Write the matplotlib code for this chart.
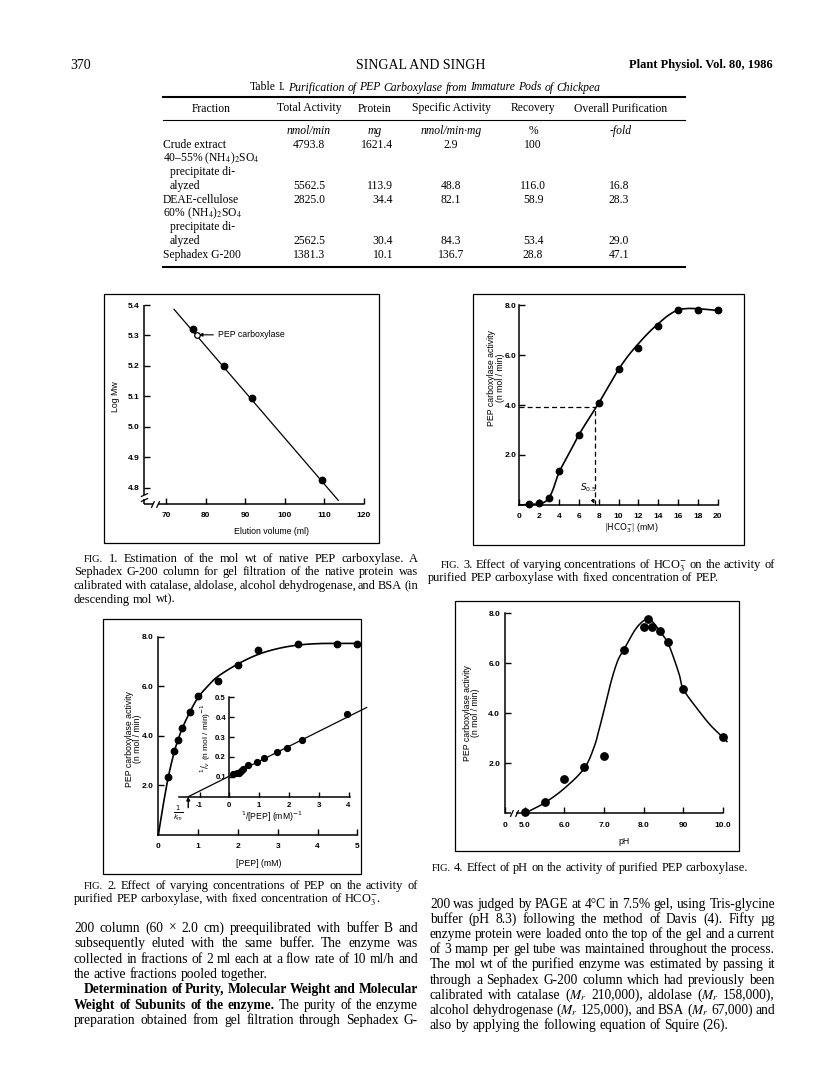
import numpy as np
import matplotlib
matplotlib.use('Agg')
import matplotlib.pyplot as plt
from matplotlib.patches import Rectangle
from matplotlib.lines import Line2D
from matplotlib.path import Path

# ---------------- data ----------------
# Table I
table_columns = ['Fraction', 'Total Activity', 'Protein', 'Specific Activity', 'Recovery', 'Overall Purification']
table_units = ['', 'nmol/min', 'mg', 'nmol/min·mg', '%', '-fold']
fraction_lines = [['Crude extract'],
                  ['40–55% (NH$_4$)$_2$SO$_4$', '  precipitate di-', '  alyzed'],
                  ['DEAE-cellulose'],
                  ['60% (NH$_4$)$_2$SO$_4$', '  precipitate di-', '  alyzed'],
                  ['Sephadex G-200']]
total_activity = [4793.8, 5562.5, 2825.0, 2562.5, 1381.3]
protein = [1621.4, 113.9, 34.4, 30.4, 10.1]
specific_activity = [2.9, 48.8, 82.1, 84.3, 136.7]
recovery = [100, 116.0, 58.9, 53.4, 28.8]
purification = [None, 16.8, 28.3, 29.0, 47.1]

# Fig 1 : gel filtration calibration
elution_ml = [76.7, 84.6, 91.6, 109.3]
log_mw = [5.32, 5.20, 5.095, 4.824]
pep_elution = [77.7]
pep_logmw = [5.302]
fit1_x = [72.0, 113.5]
fit1_y = [5.386, 4.758]
fig1_xticks = [70, 80, 90, 100, 110, 120]
fig1_yticks = [4.8, 4.9, 5.0, 5.1, 5.2, 5.3, 5.4]

# Fig 2 : PEP saturation + Lineweaver-Burk inset
pep_mm = [0.25, 0.4, 0.5, 0.6, 0.8, 1.0, 1.5, 2.0, 2.5, 3.5, 4.5, 5.0]
pep_act = [2.33, 3.40, 3.85, 4.30, 4.97, 5.62, 6.22, 6.86, 7.47, 7.72, 7.72, 7.72]
pep_curve_x = [0, 0.1, 0.25, 0.4, 0.5, 0.6, 0.8, 1.0, 1.25, 1.5, 2.0, 2.5, 3.0, 3.5, 4.0, 4.5, 5.0]
pep_curve_y = [0, 1.0, 2.33, 3.35, 3.85, 4.3, 4.98, 5.55, 6.02, 6.4, 6.9, 7.28, 7.52, 7.66, 7.72, 7.73, 7.73]
inv_pep = [0.13, 0.25, 0.33, 0.39, 0.45, 0.64, 0.94, 1.16, 1.59, 1.95, 2.43, 3.96]
inv_v = [0.114, 0.118, 0.121, 0.128, 0.141, 0.158, 0.174, 0.193, 0.225, 0.245, 0.283, 0.417]
lb_fit_x = [-1.38, 4.61]
lb_fit_y = [0.0, 0.449]
neg_inv_km = -1.38

# Fig 3 : HCO3- saturation
hco3_mm = [1, 2, 3, 4, 6, 8, 10, 12, 14, 16, 18, 20]
hco3_act = [0.05, 0.08, 0.28, 1.36, 2.79, 4.07, 5.44, 6.28, 7.16, 7.81, 7.80, 7.80]
hco3_curve_x = [0, 1, 2, 2.6, 3.0, 3.4, 4, 5, 6, 7, 8, 9, 10, 11, 12, 13, 14, 15, 16, 17, 18, 19, 20]
hco3_curve_y = [0, 0.02, 0.05, 0.13, 0.3, 0.62, 1.3, 2.05, 2.8, 3.45, 4.07, 4.75, 5.42, 5.98, 6.45,
                6.88, 7.25, 7.58, 7.8, 7.86, 7.85, 7.82, 7.78]
s05 = 7.6
half_vmax = 3.9

# Fig 4 : pH profile
ph = [5.0, 5.5, 6.0, 6.5, 7.0, 7.5, 8.0, 8.1, 8.2, 8.4, 8.6, 9.0, 10.0]
ph_act = [0.05, 0.45, 1.39, 1.85, 2.30, 6.53, 7.44, 7.76, 7.47, 7.30, 6.84, 4.96, 3.04]
ph_curve_x = [5.0, 5.5, 6.0, 6.5, 6.75, 6.87, 7.0, 7.12, 7.25, 7.37, 7.5, 7.75, 7.92, 8.07, 8.2,
              8.4, 8.6, 8.76, 8.9, 9.0, 9.34, 9.68, 10.0, 10.1]
ph_curve_y = [0.0, 0.42, 1.0, 1.8, 2.66, 3.33, 4.13, 4.93, 5.67, 6.2, 6.55, 7.26, 7.6, 7.76, 7.7,
              7.3, 6.84, 6.2, 5.53, 4.96, 4.2, 3.53, 3.04, 2.87]
ph_ticks = [4.5, 5.0, 6.0, 7.0, 8.0, 9.0, 10.0]
ph_ticklabels = ['0', '5.0', '6.0', '7.0', '8.0', '90', '10.0']

# text of the page
fig1_caption = [[('FIG.', 's'), ('1. Estimation of the mol wt of native PEP carboxylase. A', '')],
                [('Sephadex G-200 column for gel filtration of the native protein was', '')],
                [('calibrated with catalase, aldolase, alcohol dehydrogenase, and BSA (in', '')],
                [('descending mol wt).', '')]]
fig2_caption = [[('FIG.', 's'), ('2. Effect of varying concentrations of PEP on the activity of', '')],
                [('purified PEP carboxylase, with fixed concentration of HCO$_3^{-}$.', '')]]
fig3_caption = [[('FIG.', 's'), ('3. Effect of varying concentrations of HCO$_3^{-}$ on the activity of', '')],
                [('purified PEP carboxylase with fixed concentration of PEP.', '')]]
fig4_caption = [('FIG.', 's'), ('4. Effect of pH on the activity of purified PEP carboxylase.', '')]
left_body = [
    [('200 column (60 × 2.0 cm) preequilibrated with buffer B and', '')],
    [('subsequently eluted with the same buffer. The enzyme was', '')],
    [('collected in fractions of 2 ml each at a flow rate of 10 ml/h and', '')],
    [('the active fractions pooled together.', '')],
]
left_body2 = [
    [('Determination of Purity, Molecular Weight and Molecular', 'b')],
    [('Weight of Subunits of the enzyme.', 'b'), ('The purity of the enzyme', '')],
    [('preparation obtained from gel filtration through Sephadex G-', '')],
]
right_body = [
    [('200 was judged by PAGE at 4°C in 7.5% gel, using Tris-glycine', '')],
    [('buffer (pH 8.3) following the method of Davis (4). Fifty µg', '')],
    [('enzyme protein were loaded onto the top of the gel and a current', '')],
    [('of 3 mamp per gel tube was maintained throughout the process.', '')],
    [('The mol wt of the purified enzyme was estimated by passing it', '')],
    [('through a Sephadex G-200 column which had previously been', '')],
    [('calibrated with catalase ($M_r$ 210,000), aldolase ($M_r$ 158,000),', '')],
    [('alcohol dehydrogenase ($M_r$ 125,000), and BSA ($M_r$ 67,000) and', '')],
    [('also by applying the following equation of Squire (26).', '')],
]

# ---------------- page setup ----------------
W, H = 816, 1073
fig = plt.figure(figsize=(W / 100, H / 100), dpi=100)
fig.patch.set_facecolor('white')
renderer = fig.canvas.get_renderer()

SERIF = ['Liberation Serif', 'DejaVu Serif']
SANS = ['Liberation Sans', 'DejaVu Sans']
plt.rcParams['font.family'] = SANS


def fx(x):
    return x / W


def fy(y):
    return 1 - y / H


def em(size):
    return size * 100 / 72


def T(x, y, s, size=8.4, family=SERIF, ha='left', va='center', mf='stix', **kw):
    return fig.text(fx(x), fy(y), s, fontsize=size, family=family, ha=ha, va=va,
                    math_fontfamily=mf, **kw)


def hrule(x0, x1, y, lw=1.0):
    fig.add_artist(Line2D([fx(x0), fx(x1)], [fy(y), fy(y)], transform=fig.transFigure,
                          color='black', lw=lw))


def frame(x0, y0, x1, y1, lw=0.9):
    fig.add_artist(Rectangle((fx(x0), fy(y1)), (x1 - x0) / W, (y1 - y0) / H,
                             transform=fig.transFigure, fill=False, lw=lw, ec='black'))


def split_tokens(segs):
    toks = []
    for txt, st in segs:
        for w in txt.split():
            toks.append((w, st))
    return toks


def word_kw(st, size):
    kw = dict(fontsize=size, family=SERIF, va='baseline', ha='left', math_fontfamily='stix')
    if 'b' in st:
        kw['weight'] = 'bold'
    if 'i' in st:
        kw['style'] = 'italic'
    if 's' in st:
        kw['fontsize'] = size * 0.84
    return kw


def measure(segs, size):
    ws = []
    for w, st in split_tokens(segs):
        t = fig.text(0, 0, w, **word_kw(st, size))
        ws.append(t.get_window_extent(renderer).width)
        t.remove()
    return ws


def fit_size(specs, base, min_gap=0.2):
    """specs: list of (segs, available width). Largest size <= base so every line fits."""
    best = base
    for segs, avail in specs:
        ws = measure(segs, base)
        n = len(ws)
        need = sum(ws) / base + min_gap * (n - 1) * 100 / 72
        best = min(best, avail / need)
    return best


def place_line(segs, y, x0, x1=None, size=8.9, ha='left', justify=True):
    toks = split_tokens(segs)
    objs, widths = [], []
    for w, st in toks:
        t = fig.text(0, 0, w, **word_kw(st, size))
        widths.append(t.get_window_extent(renderer).width)
        objs.append(t)
    total = sum(widths)
    n = len(objs)
    if justify and x1 is not None and n > 1:
        gap = (x1 - x0 - total) / (n - 1)
    else:
        gap = 0.25 * em(size)
    span = total + gap * (n - 1)
    if ha == 'center':
        x = x0 - span / 2
    elif ha == 'right':
        x = x0 - span
    else:
        x = x0
    base = y + 0.3 * em(size)
    for t, wd in zip(objs, widths):
        t.set_position((fx(x), fy(base)))
        x += wd + gap


def para_specs(lines, x0, x1, indent_first=0, last_justify=False):
    out = []
    for i, segs in enumerate(lines):
        last = (i == len(lines) - 1)
        if (not last) or last_justify:
            out.append((segs, x1 - x0 - (indent_first if i == 0 else 0)))
    return out


def paragraph(lines, y0, dy, x0, x1, size, indent_first=0, last_justify=False):
    for i, segs in enumerate(lines):
        last = (i == len(lines) - 1)
        place_line(segs, y0 + i * dy, x0 + (indent_first if i == 0 else 0), x1, size=size,
                   justify=(not last) or last_justify)


def make_axes(px0, px1, py_top, py_bot, xlim, ylim):
    ax = fig.add_axes([fx(px0), fy(py_bot), (px1 - px0) / W, (py_bot - py_top) / H])
    ax.set_xlim(*xlim)
    ax.set_ylim(*ylim)
    ax.patch.set_visible(False)
    for s in ['top', 'right']:
        ax.spines[s].set_visible(False)
    for s in ['left', 'bottom']:
        ax.spines[s].set_linewidth(1.1)
    return ax


def ticks(ax, xt, xl, yt, yl, size=6.0, xpad=6.0, ypad=3.0):
    ax.set_xticks(xt)
    ax.set_xticklabels(xl, fontsize=size, fontweight='bold', family=SANS)
    ax.set_yticks(yt)
    ax.set_yticklabels(yl, fontsize=size, fontweight='bold', family=SANS)
    ax.tick_params(axis='both', direction='in', length=4.6, width=1.0, color='black')
    ax.tick_params(axis='x', pad=xpad)
    ax.tick_params(axis='y', pad=ypad)


def smooth(xs, ys, sx, sy, n=24):
    P = np.column_stack([np.asarray(xs, float) / sx, np.asarray(ys, float) / sy])
    P = np.vstack([2 * P[0] - P[1], P, 2 * P[-1] - P[-2]])
    t = np.linspace(0, 1, n, endpoint=False)[:, None]
    out = []
    for i in range(1, len(P) - 2):
        p0, p1, p2, p3 = P[i - 1], P[i], P[i + 1], P[i + 2]
        out.append(0.5 * (2 * p1 + (-p0 + p2) * t + (2 * p0 - 5 * p1 + 4 * p2 - p3) * t ** 2
                          + (-p0 + 3 * p1 - 3 * p2 + p3) * t ** 3))
    out.append(P[-2][None, :])
    Q = np.vstack(out)
    return Q[:, 0] * sx, Q[:, 1] * sy


HBREAK = Path([(-1.6, -1.3), (-0.4, 1.3), (0.4, -1.3), (1.6, 1.3)],
              [Path.MOVETO, Path.LINETO, Path.MOVETO, Path.LINETO])
VBREAK = Path([(-1.3, -1.5), (1.3, -0.3), (-1.3, 0.3), (1.3, 1.5)],
              [Path.MOVETO, Path.LINETO, Path.MOVETO, Path.LINETO])

LBL = 6.3
PT = dict(ls='none', marker='o', ms=4.6, color='black', clip_on=False, zorder=5)

# column geometry
LX0, LX1 = 74, 418
RX0, RX1 = 430, 775

BODY = fit_size(para_specs(left_body, LX0, LX1) + para_specs(left_body2, LX0, LX1, 10, True)
                + para_specs(right_body, RX0, RX1), 10.0)
CAP = fit_size(para_specs(fig1_caption, LX0, LX1, 10) + para_specs(fig2_caption, LX0, LX1, 10)
               + para_specs(fig3_caption, 428, RX1, 13), 9.2)

# ---------------- running head ----------------
T(70, 65, '370', size=10)
T(421, 65, 'SINGAL AND SINGH', size=10, ha='center')
T(773, 65, 'Plant Physiol. Vol. 80, 1986', size=9, ha='right', weight='bold')

# ---------------- Table I ----------------
place_line([('Table I.', ''), ('Purification of PEP Carboxylase from Immature Pods of Chickpea', 'i')],
           87, 425, size=8.4, ha='center', justify=False)
hrule(163, 685, 97, lw=1.5)
hrule(163, 685, 120, lw=0.8)
hrule(163, 685, 267, lw=1.5)
col_x = [211, 309, 375, 451, 533, 621]
for cx, name in zip(col_x, table_columns):
    T(cx, 108.5, name, size=8.4, ha='center')
for cx, unit in zip(col_x[1:], table_units[1:]):
    T(cx, 131, unit, size=8.4, ha='center', style=('normal' if unit == '%' else 'italic'))
line_y0 = 144.5
line_dy = 13.8
k = 0
for i, lines in enumerate(fraction_lines):
    for j, s in enumerate(lines):
        y = line_y0 + k * line_dy
        T(163 + (7 if s.startswith('  ') else 0), y, s.strip(), size=8.4)
        k += 1
    yv = line_y0 + (k - 1) * line_dy
    T(col_x[1], yv, f'{total_activity[i]:.1f}', size=8.4, ha='center')
    T(393, yv, f'{protein[i]:.1f}', size=8.4, ha='right')
    T(col_x[3], yv, f'{specific_activity[i]:.1f}', size=8.4, ha='center')
    rv = recovery[i]
    T(col_x[4], yv, str(rv) if isinstance(rv, int) else f'{rv:.1f}', size=8.4, ha='center')
    if purification[i] is not None:
        T(619, yv, f'{purification[i]:.1f}', size=8.4, ha='center')

# ---------------- Fig 1 ----------------
frame(104, 294, 379, 543)
ax1 = make_axes(143.5, 364, 305, 504, (64.3, 120), (4.746, 5.4))
ax1.spines['left'].set_visible(False)
ax1.spines['bottom'].set_visible(False)
ticks(ax1, fig1_xticks, [str(v) for v in fig1_xticks], fig1_yticks, [f'{v:.1f}' for v in fig1_yticks])
ax_kw = dict(color='black', lw=1.1, clip_on=False, solid_capstyle='butt')
ax1.plot([64.3, 64.3], [4.776, 5.4], **ax_kw)
ax1.plot([64.3, 64.3], [4.746, 4.762], **ax_kw)
ax1.plot([64.3], [4.769], marker=VBREAK, ms=6, mfc='none', mec='black', mew=0.9, clip_on=False)
ax1.plot([64.3, 66.6], [4.746, 4.746], **ax_kw)
ax1.plot([68.0, 120], [4.746, 4.746], **ax_kw)
ax1.plot([67.3], [4.746], marker=HBREAK, ms=6, mfc='none', mec='black', mew=0.9, clip_on=False)
ax1.plot(fit1_x, fit1_y, color='black', lw=0.9, clip_on=False)
ax1.plot(elution_ml, log_mw, **PT)
ax1.plot(pep_elution, pep_logmw, ls='none', marker='o', ms=4.0, mfc='white', mec='black', mew=0.9, zorder=6)
ax1.annotate('PEP carboxylase', xy=(pep_elution[0] + 0.6, pep_logmw[0]), xytext=(83.0, pep_logmw[0]),
             fontsize=6.3, family=SANS, va='center', ha='left',
             arrowprops=dict(arrowstyle='-|>', lw=0.8, color='black', mutation_scale=5, shrinkA=1, shrinkB=0))
T(116, 397, 'Log Mw', size=LBL, family=SANS, ha='center', rotation=90)
T(271, 531, 'Elution volume (ml)', size=LBL, family=SANS, ha='center')

paragraph(fig1_caption, 558, 13.6, LX0, LX1, CAP, indent_first=10)

# ---------------- Fig 3 ----------------
frame(473, 294, 744, 545)
ax3 = make_axes(519.3, 717.7, 305, 505, (0, 20), (0, 8))
ticks(ax3, list(range(0, 21, 2)), [str(v) for v in range(0, 21, 2)], [2, 4, 6, 8],
      ['2.0', '4.0', '6.0', '8.0'], ypad=2.0)
cx, cy = smooth(hco3_curve_x, hco3_curve_y, 20, 8)
ax3.plot(cx, cy, color='black', lw=1.2, clip_on=False)
ax3.plot(hco3_mm, hco3_act, **PT)
ax3.plot([0, s05], [half_vmax, half_vmax], color='black', lw=0.9, dashes=(4, 2.5))
ax3.plot([s05, s05], [0, half_vmax], color='black', lw=0.9, dashes=(4, 2.5))
ax3.annotate('$S_{0.5}$', xy=(s05 - 0.05, 0.05), xytext=(6.95, 0.68), fontsize=6.4,
             ha='center', va='center', math_fontfamily='dejavusans',
             arrowprops=dict(arrowstyle='-|>', lw=0.8, color='black', mutation_scale=5,
                             shrinkA=2, shrinkB=0))
T(492, 378, 'PEP carboxylase activity', size=LBL, family=SANS, ha='center', rotation=90)
T(500, 378, '(n mol / min)', size=LBL, family=SANS, ha='center', rotation=90)
T(631, 528, r'$\left[\mathrm{HCO}_{3}^{-}\right]$ (mM)', size=LBL, family=SANS, ha='center',
  mf='dejavusans')

paragraph(fig3_caption, 564, 13.6, 428, RX1, CAP, indent_first=13)

# ---------------- Fig 2 ----------------
frame(103, 619, 361, 874)
ax2 = make_axes(158.3, 357.3, 636.7, 835, (0, 5), (0, 8))
ticks(ax2, [0, 1, 2, 3, 4, 5], ['0', '1', '2', '3', '4', '5'], [2, 4, 6, 8],
      ['2.0', '4.0', '6.0', '8.0'], ypad=3.5)
cx, cy = smooth(pep_curve_x, pep_curve_y, 5, 8)
ax2.plot(cx, cy, color='black', lw=1.2, clip_on=False)
ax2.plot(pep_mm, pep_act, **PT)
T(129, 739, 'PEP carboxylase activity', size=LBL, family=SANS, ha='center', rotation=90)
T(137, 739, '(n mol / min)', size=LBL, family=SANS, ha='center', rotation=90)
T(259, 863, '[PEP] (mM)', size=LBL, family=SANS, ha='center')

axi = make_axes(179.3, 366.4, 697.3, 796.7, (-1.68, 4.6), (0, 0.5))
axi.spines['left'].set_position(('data', 0))
axi.spines['left'].set_bounds(0, 0.5)
axi.spines['bottom'].set_bounds(-1.68, 4.05)
ticks(axi, [-1, 0, 1, 2, 3, 4], ['-1', '0', '1', '2', '3', '4'], [0.1, 0.2, 0.3, 0.4, 0.5],
      ['0.1', '0.2', '0.3', '0.4', '0.5'], size=5.6, xpad=3.5, ypad=2.5)
axi.tick_params(length=3.8)
axi.plot(lb_fit_x, lb_fit_y, color='black', lw=0.9, clip_on=False)
axi.plot(inv_pep, inv_v, ls='none', marker='o', ms=4.2, color='black', clip_on=False, zorder=5)
axi.annotate('', xy=(neg_inv_km, 0.0), xytext=(neg_inv_km, -0.055),
             arrowprops=dict(arrowstyle='-|>', lw=1.0, color='black', mutation_scale=5,
                             shrinkA=0, shrinkB=0), annotation_clip=False)
T(206, 738, r'$^{1}/_{v}$ (n mol / min)$^{-1}$', size=6.0, family=SANS, ha='center', rotation=90,
  mf='dejavusans')
T(272, 817, r'$^{1}$/[PEP] (mM)$^{-1}$', size=6.2, family=SANS, ha='center', mf='dejavusans')
T(178, 813, r'$\frac{1}{k_m}$', size=7.0, family=SANS, ha='center', mf='dejavusans')

paragraph(fig2_caption, 885, 13.6, LX0, LX1, CAP, indent_first=10)

# ---------------- Fig 4 ----------------
frame(455, 601, 739, 851)
ax4 = make_axes(505, 723, 613.3, 813.3, (4.5, 10), (0, 8))
ax4.spines['bottom'].set_visible(False)
ticks(ax4, ph_ticks, ph_ticklabels, [2, 4, 6, 8], ['2.0', '4.0', '6.0', '8.0'], ypad=3.5)
ax4.plot([4.5, 4.66], [0, 0], **ax_kw)
ax4.plot([4.77, 10.0], [0, 0], **ax_kw)
ax4.plot([4.715], [0], marker=HBREAK, ms=6, mfc='none', mec='black', mew=0.9, clip_on=False)
cx, cy = smooth(ph_curve_x, ph_curve_y, 5.5, 8)
ax4.plot(cx, cy, color='black', lw=1.1, clip_on=False)
ax4.plot(ph, ph_act, ls='none', marker='o', ms=5.3, color='black', clip_on=False, zorder=5)
T(467, 713, 'PEP carboxylase activity', size=LBL, family=SANS, ha='center', rotation=90)
T(475, 713, '(n mol / min)', size=LBL, family=SANS, ha='center', rotation=90)
T(624, 841, 'pH', size=LBL, family=SANS, ha='center')

place_line(fig4_caption, 867, 590, size=CAP, ha='center', justify=False)

# ---------------- body text ----------------
paragraph(left_body, 928, 15.3, LX0, LX1, BODY)
paragraph(left_body2, 928 + 4 * 15.3, 15.3, LX0, LX1, BODY, indent_first=10, last_justify=True)
paragraph(right_body, 904, 15.1, RX0, RX1, BODY)

fig.savefig('out.png', dpi=100, facecolor='white')
